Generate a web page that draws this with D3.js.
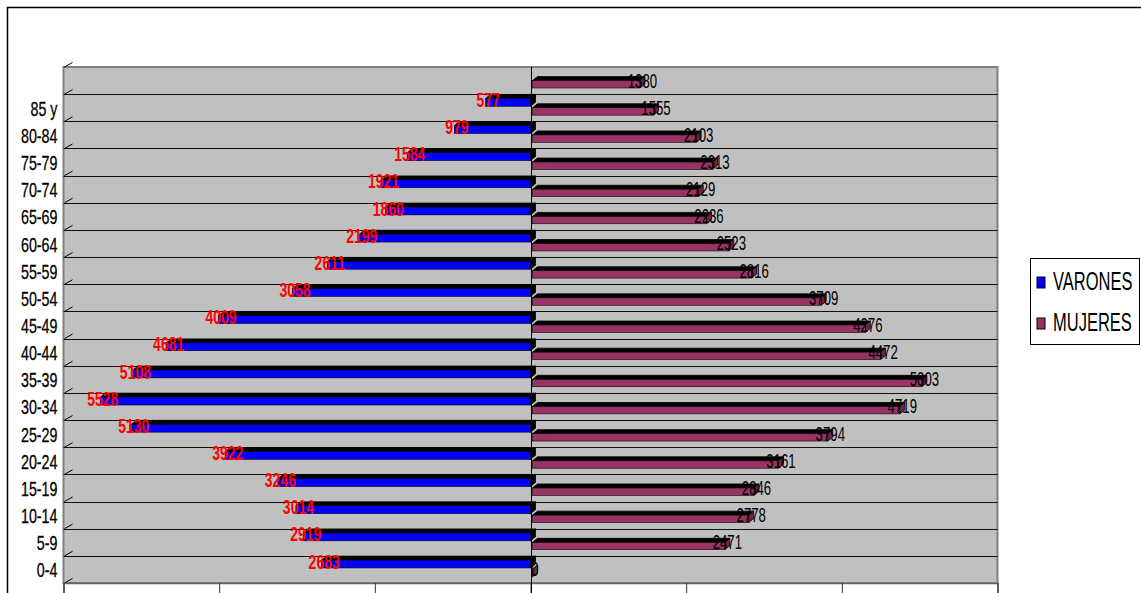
<!DOCTYPE html>
<html>
<head>
<meta charset="utf-8">
<script src="https://cdn.jsdelivr.net/npm/d3@7"></script>
<style>
  body { margin: 0; background: #fff; }
  text { font-family: "Liberation Sans", Arial, sans-serif; }
</style>
</head>
<body>
<div id="chart"></div>
<script>
// age groups, top to bottom (first row has no label in the original)
const ages = ["85 y", "80-84", "75-79", "70-74", "65-69", "60-64", "55-59", "50-54", "45-49",
  "40-44", "35-39", "30-34", "25-29", "20-24", "15-19", "10-14", "5-9", "0-4"];
const rows = [""].concat(ages);

const varones = [null, 577, 979, 1584, 1921, 1860, 2199, 2611, 3058, 4009,
  4681, 5108, 5528, 5130, 3922, 3246, 3014, 2919, 2683];
const mujeres = [1380, 1555, 2103, 2313, 2129, 2236, 2523, 2816, 3709, 4276,
  4472, 5003, 4719, 3794, 3161, 2846, 2778, 2471, 0];

const xTicks = [-6000, -4000, -2000, 0, 2000, 4000, 6000];
const seriesNames = ["VARONES", "MUJERES"];
const seriesColors = ["#0000ff", "#993366"];

const W = 1141, H = 593;
const plot = { left: 63.5, right: 997.5, top: 67, bottom: 583 };

const svg = d3.select("#chart")
    .append("svg")
    .attr("width", W)
    .attr("height", H);

svg.append("rect").attr("width", W).attr("height", H).attr("fill", "#fff");

// chart area border (only top and left are inside the picture)
svg.append("path")
    .attr("d", `M7.5,${H} V7.5 H${W}`)
    .attr("fill", "none")
    .attr("stroke", "#000")
    .attr("stroke-width", 1.5);

const x = d3.scaleLinear().domain([-6000, 6000]).range([plot.left, plot.right]);
const y = d3.scaleBand().domain(rows).range([plot.top, plot.bottom]);

// plot area (back wall)
svg.append("rect")
    .attr("x", plot.left)
    .attr("y", plot.top)
    .attr("width", plot.right - plot.left)
    .attr("height", plot.bottom - plot.top)
    .attr("fill", "#c0c0c0")
    .attr("stroke", "#808080")
    .attr("stroke-width", 2);

// gridlines
svg.append("g")
    .selectAll("line")
    .data(rows.slice(1))
    .join("line")
    .attr("x1", plot.left)
    .attr("x2", plot.right)
    .attr("y1", d => Math.round(y(d)) + 0.5)
    .attr("y2", d => Math.round(y(d)) + 0.5)
    .attr("stroke", "#111")
    .attr("stroke-width", 1.2);

// little 3D depth ticks on the left wall
const bounds = rows.map(d => y(d)).concat([plot.bottom]);
svg.append("g")
    .selectAll("line")
    .data(bounds)
    .join("line")
    .attr("x1", plot.left + 1)
    .attr("y1", d => d)
    .attr("x2", plot.left + 9)
    .attr("y2", d => d - 4.5)
    .attr("stroke", "#000")
    .attr("stroke-width", 1);

// bottom axis: ticks only
const xAxis = svg.append("g")
    .attr("transform", `translate(0, ${plot.bottom})`)
    .call(d3.axisBottom(x).tickValues(xTicks).tickFormat("").tickSize(12));
xAxis.select(".domain").attr("stroke", "#666").attr("stroke-width", 1.5);
xAxis.selectAll(".tick line").attr("stroke", "#333");

// zero line
svg.append("line")
    .attr("x1", Math.round(x(0)) + 0.5)
    .attr("x2", Math.round(x(0)) + 0.5)
    .attr("y1", plot.top)
    .attr("y2", H)
    .attr("stroke", "#000")
    .attr("stroke-width", 1);

// category labels
const yAxis = svg.append("g")
    .attr("transform", `translate(${plot.left}, 0)`)
    .call(d3.axisLeft(y).tickSize(0).tickPadding(0));
yAxis.select(".domain").remove();
yAxis.selectAll("text")
    .attr("x", null)
    .attr("dy", null)
    .attr("transform", "translate(-6, 8) scale(0.68, 1)")
    .style("font-family", '"Liberation Sans", Arial, sans-serif')
    .style("font-size", "21px")
    .attr("fill", "#000")
    .attr("stroke", "#000")
    .attr("stroke-width", 0.3);

// 3D bar helper
const dx = 5, dy = 4;
function bar3d(g, x1, x2, yTop, h, color, sideColor) {
  const yBot = yTop + h;
  g.append("polygon")
      .attr("points", [[x1, yTop], [x1 + dx, yTop - dy], [x2 + dx, yTop - dy], [x2, yTop]].join(" "))
      .attr("fill", "#000").attr("stroke", "#000").attr("stroke-width", 0.8);
  g.append("polygon")
      .attr("points", [[x2, yTop], [x2 + dx, yTop - dy], [x2 + dx, yBot - dy], [x2, yBot]].join(" "))
      .attr("fill", sideColor).attr("stroke", "#000").attr("stroke-width", 0.8);
  g.append("rect")
      .attr("x", x1).attr("y", yTop)
      .attr("width", x2 - x1).attr("height", h)
      .attr("fill", color).attr("stroke", "#000").attr("stroke-width", 0.6);
}

const bars = svg.append("g");
rows.forEach((r, i) => {
  const y0 = y(r);
  const g = bars.append("g");
  if (varones[i] != null) {
    bar3d(g, x(-varones[i]), x(0), y0 + 4.3, 7.8, seriesColors[0], "#000");
  }
  if (mujeres[i] != null) {
    const off = 2;
    bar3d(g, x(0) + off, x(mujeres[i]) + off, y0 + 13.6, 7.4, seriesColors[1], "#6e2449");
  }
});

// value labels
const labels = svg.append("g");
rows.forEach((r, i) => {
  const y0 = y(r);
  if (varones[i] != null) {
    labels.append("g")
        .attr("transform", `translate(${x(-varones[i]) + 2.5}, ${y0 + 12.8})`)
        .append("text")
        .attr("transform", "scale(0.7, 1)")
        .attr("text-anchor", "middle")
        .attr("font-size", 20)
        .attr("font-weight", "bold")
        .attr("fill", "#ff0000")
        .text(varones[i]);
  }
  if (mujeres[i] != null) {
    labels.append("g")
        .attr("transform", `translate(${x(mujeres[i]) + 4.5}, ${y0 + 20.5})`)
        .append("text")
        .attr("transform", "scale(0.66, 1)")
        .attr("text-anchor", "middle")
        .attr("font-size", 20)
        .attr("fill", "#000")
        .text(mujeres[i]);
  }
});

// legend
const legend = svg.append("g");
legend.append("rect")
    .attr("x", 1030.5).attr("y", 258.5)
    .attr("width", 109).attr("height", 86)
    .attr("fill", "#fff").attr("stroke", "#000").attr("stroke-width", 1);
const legendY = [277, 318];
seriesNames.forEach((name, i) => {
  legend.append("rect")
      .attr("x", 1037).attr("y", legendY[i])
      .attr("width", 8).attr("height", 11)
      .attr("fill", seriesColors[i]).attr("stroke", "#000").attr("stroke-width", 1);
  legend.append("g")
      .attr("transform", `translate(1053, ${legendY[i] + 13})`)
      .append("text")
      .attr("transform", "scale(0.66, 1)")
      .attr("font-size", 25)
      .attr("fill", "#000")
      .text(name);
});
</script>
</body>
</html>
